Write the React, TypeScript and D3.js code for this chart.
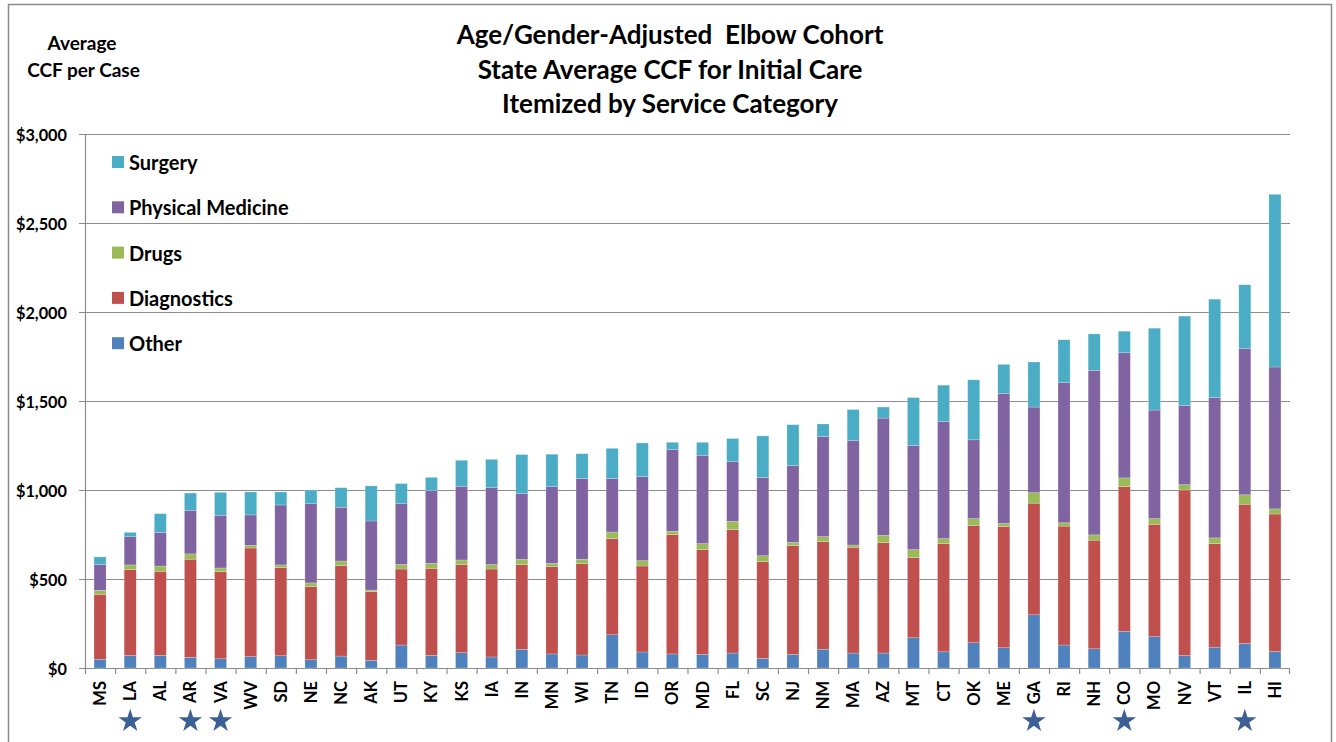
import React from "react";
import * as d3 from "d3";

// States ordered by total average CCF per case
const states = [
  "MS", "LA", "AL", "AR", "VA", "WV", "SD", "NE", "NC", "AK",
  "UT", "KY", "KS", "IA", "IN", "MN", "WI", "TN", "ID", "OR",
  "MD", "FL", "SC", "NJ", "NM", "MA", "AZ", "MT", "CT", "OK",
  "ME", "GA", "RI", "NH", "CO", "MO", "NV", "VT", "IL", "HI",
];

// Per-category dollar amounts (stack order bottom to top)
const other = [
  49, 71, 71, 60, 52, 64, 69, 47, 67, 43,
  129, 71, 86, 62, 105, 79, 73, 187, 90, 79,
  77, 84, 54, 77, 105, 84, 84, 170, 91, 142,
  114, 299, 129, 108, 206, 176, 70, 117, 138, 93,
];
const diagnostics = [
  365, 482, 472, 551, 489, 610, 495, 410, 508, 386,
  427, 489, 495, 494, 476, 490, 513, 540, 483, 670,
  588, 693, 543, 610, 605, 594, 620, 451, 608, 659,
  681, 627, 668, 610, 813, 631, 930, 582, 782, 772,
];
const drugs = [
  22, 26, 30, 30, 21, 15, 15, 21, 26, 9,
  26, 28, 26, 25, 30, 19, 25, 37, 30, 19,
  34, 47, 34, 19, 28, 13, 41, 44, 28, 38,
  17, 59, 19, 30, 49, 32, 30, 32, 53, 29,
];
const physicalMedicine = [
  145, 159, 189, 245, 296, 171, 337, 445, 302, 388,
  341, 408, 414, 432, 369, 431, 453, 300, 472, 459,
  496, 335, 439, 431, 562, 588, 659, 585, 657, 443,
  731, 481, 788, 924, 703, 610, 445, 788, 822, 797,
];
const surgery = [
  43, 24, 105, 97, 129, 129, 73, 77, 110, 197,
  113, 75, 146, 159, 219, 182, 140, 170, 189, 41,
  73, 130, 234, 230, 71, 173, 62, 269, 205, 337,
  163, 253, 240, 205, 121, 460, 502, 553, 358, 970,
];

// States flagged with a star under the axis
const starredStates = ["LA", "AR", "VA", "GA", "CO", "IL"];

const seriesKeys = ["Other", "Diagnostics", "Drugs", "Physical Medicine", "Surgery"];
const seriesValues = [other, diagnostics, drugs, physicalMedicine, surgery];
const seriesColors = ["#4F81BD", "#C0504D", "#9BBB59", "#8064A2", "#4BACC6"];

const yTicks = [0, 500, 1000, 1500, 2000, 2500, 3000];
const titleLines = [
  "Age/Gender-Adjusted  Elbow Cohort",
  "State Average CCF for Initial Care",
  "Itemized by Service Category",
];

const W = 1336;
const H = 742;
const FONT = "Lato, 'Open Sans', sans-serif";

export default function App() {
  const rows = states.map((s, i) => {
    const r: Record<string, any> = { state: s };
    seriesKeys.forEach((k, j) => (r[k] = seriesValues[j][i]));
    return r;
  });
  const stacked = d3.stack<any>().keys(seriesKeys)(rows);

  const left = 85;
  const right = 1290;
  const top = 134;
  const bottom = 668;

  const x = d3.scaleBand<string>().domain(states).range([left, right]).paddingInner(0.6).paddingOuter(0.3);
  const xOuter = d3.scaleBand<string>().domain(states).range([left, right]).padding(0);
  const y = d3.scaleLinear().domain([0, 3000]).range([bottom, top]);
  const fmt = (v: number) => "$" + d3.format(",")(v);

  const star = d3.symbol().type(d3.symbolStar).size(170)();

  const legendOrder = [...seriesKeys].reverse();

  return (
    <svg
      width={W}
      height={H}
      style={{ position: "absolute", left: 0, top: 0, background: "#fff" }}
      fontFamily={FONT}
    >
      <rect x={8.5} y={4.5} width={1323} height={800} fill="#fff" stroke="#8a8a8a" strokeWidth={1.5} />

      {/* title */}
      {titleLines.map((t, i) => (
        <text
          key={t}
          x={670}
          y={34 + i * 34.5}
          textAnchor="middle"
          dominantBaseline="central"
          fontSize={26}
          fontWeight={700}
          fill="#000"
          style={{ whiteSpace: "pre" }}
        >
          {t}
        </text>
      ))}

      {/* y-axis title */}
      <text x={82} y={42} textAnchor="middle" dominantBaseline="central" fontSize={19} fontWeight={700}>
        Average
      </text>
      <text x={83.5} y={69} textAnchor="middle" dominantBaseline="central" fontSize={19} fontWeight={700}>
        CCF per Case
      </text>

      {/* gridlines and y ticks */}
      {yTicks.map((t) => (
        <g key={t}>
          <line x1={79} x2={right} y1={y(t) + 0.5} y2={y(t) + 0.5} stroke="#8c8c8c" strokeWidth={1.2} />
          <text
            x={67}
            y={y(t)}
            textAnchor="end"
            dominantBaseline="central"
            fontSize={16.3}
            fontWeight={700}
          >
            {fmt(t)}
          </text>
        </g>
      ))}
      <line x1={left + 0.5} x2={left + 0.5} y1={top} y2={bottom} stroke="#8c8c8c" strokeWidth={1.2} />

      {/* x ticks */}
      {states.map((s) => (
        <line
          key={"t" + s}
          x1={(xOuter(s) as number) + 0.5}
          x2={(xOuter(s) as number) + 0.5}
          y1={bottom}
          y2={bottom + 6}
          stroke="#8c8c8c"
          strokeWidth={1.2}
        />
      ))}
      <line x1={right - 0.5} x2={right - 0.5} y1={bottom} y2={bottom + 6} stroke="#8c8c8c" strokeWidth={1.2} />

      {/* stacked bars */}
      {stacked.map((layer, li) => (
        <g key={layer.key} fill={seriesColors[li]}>
          {layer.map((d, i) => (
            <rect
              key={states[i]}
              x={x(states[i])}
              y={y(d[1])}
              width={x.bandwidth()}
              height={y(d[0]) - y(d[1])}
              stroke="#ffffff"
              strokeOpacity={0.35}
              strokeWidth={0.6}
            />
          ))}
        </g>
      ))}

      {/* category labels */}
      {states.map((s) => {
        const cx = (x(s) as number) + x.bandwidth() / 2;
        return (
          <text
            key={"l" + s}
            transform={`translate(${cx},681) rotate(-90)`}
            textAnchor="end"
            dominantBaseline="central"
            fontSize={16.5}
            fontWeight={700}
          >
            {s}
          </text>
        );
      })}

      {/* stars */}
      {starredStates.map((s) => {
        const cx = (x(s) as number) + x.bandwidth() / 2;
        return <path key={"s" + s} d={star as string} transform={`translate(${cx},721)`} fill="#3C6096" />;
      })}

      {/* legend */}
      {legendOrder.map((k, i) => {
        const idx = seriesKeys.indexOf(k);
        const cy = 162 + i * 45.3;
        return (
          <g key={"lg" + k}>
            <rect x={112} y={cy - 6} width={12} height={12} fill={seriesColors[idx]} />
            <text x={129} y={cy} dominantBaseline="central" fontSize={20} fontWeight={700}>
              {k}
            </text>
          </g>
        );
      })}
    </svg>
  );
}
